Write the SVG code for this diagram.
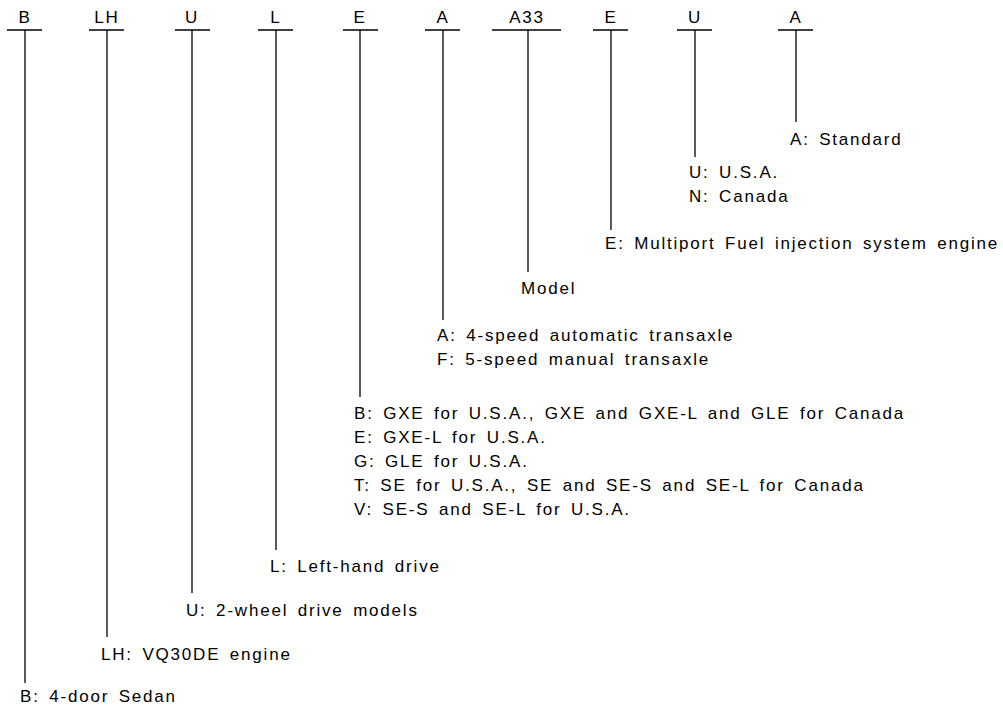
<svg xmlns="http://www.w3.org/2000/svg" width="1003" height="707" viewBox="0 0 1003 707">
<style>
text{font-family:"Liberation Sans",Arial,Helvetica,sans-serif;font-size:17px;fill:#000;letter-spacing:1.8px;word-spacing:3px}
.h{text-anchor:middle}
line{stroke:#000;stroke-width:1.3;fill:none}
</style>
<rect width="1003" height="707" fill="#fff"/>
<g id="code-B"><text class="h" x="25" y="23">B</text><line x1="7" y1="30" x2="42" y2="30"/></g>
<g id="code-LH"><text class="h" x="107" y="23">LH</text><line x1="89" y1="30" x2="124" y2="30"/></g>
<g id="code-U"><text class="h" x="192" y="23">U</text><line x1="175" y1="30" x2="210" y2="30"/></g>
<g id="code-L"><text class="h" x="276" y="23">L</text><line x1="258" y1="30" x2="293" y2="30"/></g>
<g id="code-E"><text class="h" x="360" y="23">E</text><line x1="343" y1="30" x2="378" y2="30"/></g>
<g id="code-A"><text class="h" x="443" y="23">A</text><line x1="425" y1="30" x2="460" y2="30"/></g>
<g id="code-A33"><text class="h" x="527" y="23">A33</text><line x1="492" y1="30" x2="561" y2="30"/></g>
<g id="code-E2"><text class="h" x="611" y="23">E</text><line x1="593" y1="30" x2="628" y2="30"/></g>
<g id="code-U2"><text class="h" x="695" y="23">U</text><line x1="677" y1="30" x2="712" y2="30"/></g>
<g id="code-A2"><text class="h" x="796" y="23">A</text><line x1="778" y1="30" x2="813" y2="30"/></g>

<g id="connectors">
<line x1="25" y1="30" x2="25" y2="683"/>
<line x1="107" y1="30" x2="107" y2="637"/>
<line x1="192" y1="30" x2="192" y2="593"/>
<line x1="276" y1="30" x2="276" y2="550"/>
<line x1="360" y1="30" x2="360" y2="397"/>
<line x1="443" y1="30" x2="443" y2="320"/>
<line x1="528" y1="30" x2="528" y2="272"/>
<line x1="611" y1="30" x2="611" y2="230"/>
<line x1="695" y1="30" x2="695" y2="157"/>
<line x1="796" y1="30" x2="796" y2="122"/>
</g>

<g id="desc-A2"><text x="790" y="145">A: Standard</text></g>
<g id="desc-U2"><text x="689" y="178">U: U.S.A.</text><text x="689" y="202">N: Canada</text></g>
<g id="desc-E2"><text x="605" y="249">E: Multiport Fuel injection system engine</text></g>
<g id="desc-A33"><text x="521" y="294">Model</text></g>
<g id="desc-A"><text x="437" y="341">A: 4-speed automatic transaxle</text><text x="437" y="365">F: 5-speed manual transaxle</text></g>
<g id="desc-E"><text x="354" y="419">B: GXE for U.S.A., GXE and GXE-L and GLE for Canada</text><text x="354" y="443">E: GXE-L for U.S.A.</text><text x="354" y="467">G: GLE for U.S.A.</text><text x="354" y="491">T: SE for U.S.A., SE and SE-S and SE-L for Canada</text><text x="354" y="515">V: SE-S and SE-L for U.S.A.</text></g>
<g id="desc-L"><text x="270" y="572">L: Left-hand drive</text></g>
<g id="desc-U"><text x="186" y="616">U: 2-wheel drive models</text></g>
<g id="desc-LH"><text x="101" y="660">LH: VQ30DE engine</text></g>
<g id="desc-B"><text x="20" y="702">B: 4-door Sedan</text></g>
</svg>
